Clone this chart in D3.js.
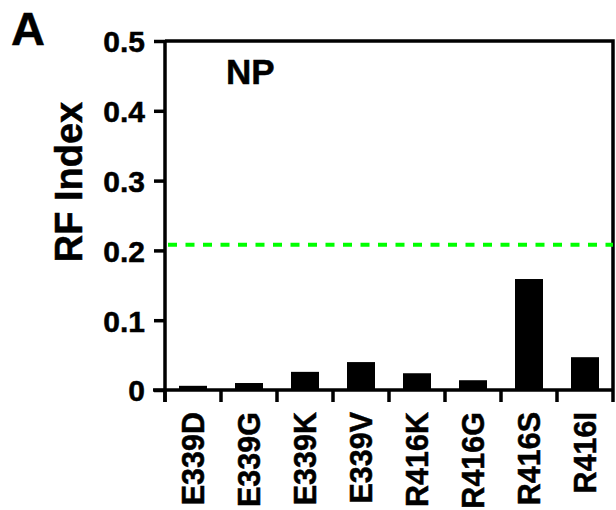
<!DOCTYPE html>
<html>
<head>
<meta charset="utf-8">
<script src="https://cdn.jsdelivr.net/npm/d3@7"></script>
<style>
  body { margin: 0; background: #fff; }
  text { font-family: "Liberation Sans", Arial, sans-serif; font-weight: bold; fill: #000; stroke: #000; stroke-width: 0.5px; }
</style>
</head>
<body>
<svg id="chart" width="616" height="510"></svg>
<script>
// data
const mutants = ["E339D", "E339G", "E339K", "E339V", "R416K", "R416G", "R416S", "R416I"];
const rfIndex = [0.006, 0.010, 0.026, 0.040, 0.024, 0.014, 0.159, 0.047];
const yTicks = [0, 0.1, 0.2, 0.3, 0.4, 0.5];
const cutoff = [0.208];

const svg = d3.select("#chart");
const plotL = 165, plotR = 613, plotT = 41, plotB = 390;

const x = d3.scaleBand().domain(mutants).range([plotL, plotR])
    .paddingInner(0.5).paddingOuter(0.25);
const xEdge = d3.scaleBand().domain(mutants).range([plotL, plotR]); // tick marks at category borders
const y = d3.scaleLinear().domain([0, 0.5]).range([plotB, plotT]);

// frame top + right
svg.append("path")
    .attr("d", `M${plotL},${plotT}H${plotR}V${plotB}`)
    .attr("fill", "none").attr("stroke", "#000").attr("stroke-width", 3.5);

// bars
svg.selectAll("rect.bar")
    .data(mutants)
    .enter().append("rect")
    .attr("class", "bar")
    .attr("x", d => x(d))
    .attr("width", x.bandwidth())
    .attr("y", (d, i) => y(rfIndex[i]))
    .attr("height", (d, i) => y(0) - y(rfIndex[i]))
    .attr("fill", "#000");

// green dashed cut-off line
svg.selectAll("line.cut")
    .data(cutoff)
    .enter().append("line")
    .attr("x1", plotL + 3).attr("x2", plotR)
    .attr("y1", d => y(d)).attr("y2", d => y(d))
    .attr("stroke", "#00ff00")
    .attr("stroke-width", 4)
    .attr("stroke-dasharray", "9,8.5");

// y axis
const yAxis = svg.append("g")
    .attr("transform", `translate(${plotL},0)`)
    .call(d3.axisLeft(y).tickValues(yTicks)
        .tickFormat(d => d === 0 ? "0" : d3.format(".1f")(d))
        .tickSize(11).tickPadding(9));
yAxis.select(".domain").attr("stroke-width", 3.5).attr("d", `M0,${plotT}V${plotB + 12}`);
yAxis.selectAll(".tick line").attr("stroke-width", 3.5);
yAxis.selectAll("text").style("font-size", "30px").attr("dy", "0.36em");

// x axis
const xAxis = svg.append("g")
    .attr("transform", `translate(0,${plotB})`)
    .call(d3.axisBottom(x).tickSize(0).tickPadding(0));
xAxis.select(".domain").attr("stroke-width", 3.5).attr("d", `M${plotL - 12},0H${plotR + 1}`);
xAxis.selectAll(".tick text")
    .style("font-size", "30.5px")
    .attr("text-anchor", "end")
    .attr("transform", "rotate(-90)")
    .attr("x", -22).attr("y", 0).attr("dy", "0.36em");

// border ticks on x axis
const edges = mutants.map(d => xEdge(d)).concat([plotR]);
xAxis.selectAll("line.edge")
    .data(edges)
    .enter().append("line")
    .attr("class", "edge")
    .attr("x1", d => d).attr("x2", d => d)
    .attr("y1", 0).attr("y2", 12)
    .attr("stroke", "#000").attr("stroke-width", 3.5);

// labels
svg.append("text")
    .attr("transform", `translate(82,182) rotate(-90)`)
    .attr("text-anchor", "middle")
    .style("font-size", "38px")
    .text("RF Index");

svg.append("text")
    .attr("x", 226).attr("y", 84)
    .style("font-size", "35px")
    .text("NP");

svg.append("text")
    .attr("x", 11).attr("y", 45)
    .style("font-size", "47px")
    .text("A");
</script>
</body>
</html>
